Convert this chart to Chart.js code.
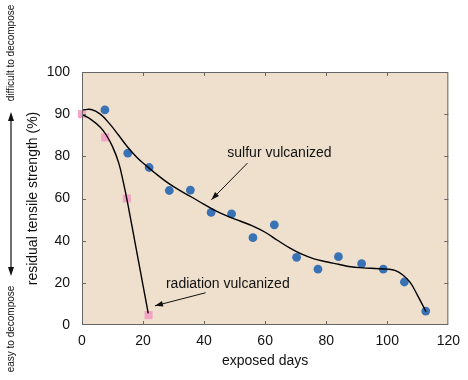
<!DOCTYPE html>
<html><head><meta charset="utf-8">
<script src="https://cdn.jsdelivr.net/npm/chart.js@4/dist/chart.umd.min.js"></script>
<style>html,body{margin:0;padding:0;background:#fff}#wrap{width:468px;height:380px}</style>
</head><body><div id="wrap"><canvas id="c" width="468" height="380"></canvas></div>
<script>
// ---- data ----
const sulfurDays   = [7.5, 15, 22, 28.6, 35.5, 42.3, 49, 56, 63, 70.3, 77.3, 84, 91.6, 98.7, 105.6, 112.6];
const sulfurValues = [102, 81.5, 74.7, 63.8, 64, 53.4, 52.7, 41.4, 47.5, 32.1, 26.5, 32.4, 29.1, 26.5, 20.4, 6.6];
const radiationDays   = [0, 7.6, 14.7, 21.8];
const radiationValues = [100, 89, 60, 4.7];
// fitted curves
const sulfurCurveDays   = [0, 3, 6, 9, 12, 15, 18, 21, 24, 27, 30, 33, 36, 40, 44, 48, 52, 56, 60, 64, 68, 72, 76, 80, 84, 88, 92, 96, 100, 102.5, 105, 107.5, 110, 112.7];
const sulfurCurveValues = [101.9, 102.2, 100, 95.5, 90, 84.3, 79.5, 75.6, 72, 68.6, 65.6, 63, 60.6, 57.2, 54, 51.4, 49.2, 46.9, 44, 40.2, 36.6, 33.6, 31.4, 30, 28.8, 27.6, 27.1, 26.8, 26.5, 25.9, 23.8, 20.2, 13.8, 6.3];
const radiationCurveDays   = [0, 3, 6, 8, 10, 12, 13.5, 15, 17, 19, 20, 21.7];
const radiationCurveValues = [99.9, 97.4, 93.8, 90, 84.6, 77, 68, 57.5, 42, 26.5, 18.7, 5.5];
// tick labels
const xTickLabels = ["0","20","40","60","80","100","120"];
const yTickLabels = ["0","20","40","60","80","90","100"];
const xTitle = "exposed days";
const yTitle = "residual tensile strength (%)";
const sulfurLabel = "sulfur vulcanized";
const radiationLabel = "radiation vulcanized";
const topNote = "difficult to decompose";
const bottomNote = "easy to decompose";

const pts = (xs, ys) => xs.map((x, i) => ({x, y: ys[i]}));
const FONT = "'Liberation Sans', Arial, Helvetica, sans-serif";

function arrowHead(ctx, x1, y1, x2, y2, len, half) {
  const a = Math.atan2(y2 - y1, x2 - x1);
  ctx.beginPath();
  ctx.moveTo(x2, y2);
  ctx.lineTo(x2 - len*Math.cos(a) + half*Math.sin(a), y2 - len*Math.sin(a) - half*Math.cos(a));
  ctx.lineTo(x2 - len*Math.cos(a) - half*Math.sin(a), y2 - len*Math.sin(a) + half*Math.cos(a));
  ctx.closePath();
  ctx.fill();
}

const decor = {
  id: 'decor',
  beforeDatasetsDraw(chart) {
    const {ctx, chartArea: a} = chart;
    ctx.save();
    ctx.fillStyle = '#eee0cc';
    ctx.fillRect(a.left, a.top, a.right - a.left, a.bottom - a.top);
    ctx.restore();
  },
  afterDraw(chart) {
    const {ctx, chartArea: a, scales: {x, y}} = chart;
    ctx.save();
    ctx.strokeStyle = '#666';
    ctx.lineWidth = 1;
    ctx.strokeRect(a.left + 0.5, a.top + 0.5, a.right - a.left - 1, a.bottom - a.top - 1);
    ctx.beginPath();
    for (let v = 20; v < 120; v += 20) {
      const px = Math.round(x.getPixelForValue(v)) + 0.5;
      ctx.moveTo(px, a.bottom); ctx.lineTo(px, a.bottom - 4);
      ctx.moveTo(px, a.top); ctx.lineTo(px, a.top + 4);
      const py = Math.round(y.getPixelForValue(v)) + 0.5;
      ctx.moveTo(a.left, py); ctx.lineTo(a.left + 4, py);
      ctx.moveTo(a.right, py); ctx.lineTo(a.right - 4, py);
    }
    ctx.stroke();

    ctx.fillStyle = '#111';
    ctx.strokeStyle = '#111';
    ctx.font = '14px ' + FONT;
    ctx.textBaseline = 'alphabetic';
    ctx.textAlign = 'left';
    ctx.fillText(sulfurLabel, x.getPixelForValue(47.6), y.getPixelForValue(79.5));
    ctx.fillText(radiationLabel, x.getPixelForValue(27.5), y.getPixelForValue(17.5));

    ctx.lineWidth = 1;
    let x1 = x.getPixelForValue(54.2), y1 = y.getPixelForValue(76.8);
    let x2 = x.getPixelForValue(42.4), y2 = y.getPixelForValue(59.4);
    ctx.beginPath(); ctx.moveTo(x1, y1); ctx.lineTo(x2, y2); ctx.stroke();
    arrowHead(ctx, x1, y1, x2, y2, 8, 2.8);
    x1 = x.getPixelForValue(40.5); y1 = y.getPixelForValue(15.3);
    x2 = x.getPixelForValue(23.9); y2 = y.getPixelForValue(9.1);
    ctx.beginPath(); ctx.moveTo(x1, y1); ctx.lineTo(x2, y2); ctx.stroke();
    arrowHead(ctx, x1, y1, x2, y2, 8, 2.8);

    const lx = 11;
    ctx.font = '10px ' + FONT;
    ctx.textAlign = 'center';
    ctx.textBaseline = 'middle';
    ctx.save(); ctx.translate(lx, 53); ctx.rotate(-Math.PI/2); ctx.fillText(topNote, 0, 0); ctx.restore();
    ctx.save(); ctx.translate(lx, 329); ctx.rotate(-Math.PI/2); ctx.fillText(bottomNote, 0, 0); ctx.restore();
    ctx.lineWidth = 1.2;
    ctx.beginPath(); ctx.moveTo(lx, 118); ctx.lineTo(lx, 270); ctx.stroke();
    arrowHead(ctx, lx, 200, lx, 112, 9, 3);
    arrowHead(ctx, lx, 200, lx, 276, 9, 3);
    ctx.restore();
  }
};

new Chart(document.getElementById('c'), {
  data: {
    datasets: [
      { type: 'line', data: pts(sulfurCurveDays, sulfurCurveValues), borderColor: '#000', borderWidth: 1.4,
        pointRadius: 0, tension: 0.4, fill: false, order: 0 },
      { type: 'line', data: pts(radiationCurveDays, radiationCurveValues), borderColor: '#000', borderWidth: 1.4,
        pointRadius: 0, tension: 0.4, fill: false, order: 0 },
      { type: 'scatter', data: pts(sulfurDays, sulfurValues), backgroundColor: '#3a72b6', borderWidth: 0,
        radius: 4.4, pointRadius: 4.4, pointStyle: 'circle', clip: false, order: 1 },
      { type: 'scatter', data: pts(radiationDays, radiationValues), backgroundColor: '#f2a3c6', borderColor: '#f2a3c6', borderWidth: 0,
        radius: 5.7, pointRadius: 5.7, pointStyle: 'rect', clip: false, order: 1 }
    ]
  },
  options: {
    responsive: false, animation: false, devicePixelRatio: 1,
    layout: { padding: { top: 72, right: 19, left: 0, bottom: 0 } },
    plugins: { legend: { display: false }, tooltip: { enabled: false } },
    scales: {
      x: { type: 'linear', min: 0, max: 120,
        afterFit: s => { s.height = 55; },
        grid: { display: false, drawTicks: false }, border: { display: false },
        ticks: { stepSize: 20, padding: 8, color: '#111', font: { size: 14, family: FONT },
          callback: v => xTickLabels[Math.round(v / 20)] },
        title: { display: true, text: xTitle, color: '#111', font: { size: 14, family: FONT }, padding: { top: 0, bottom: 10 } } },
      y: { type: 'linear', min: 0, max: 120,
        afterFit: s => { s.width = 82; },
        grid: { display: false, drawTicks: false }, border: { display: false },
        ticks: { stepSize: 20, padding: 12, color: '#111', font: { size: 14, family: FONT },
          callback: v => yTickLabels[Math.round(v / 20)] },
        title: { display: true, text: yTitle, color: '#111', font: { size: 14, family: FONT }, padding: { top: 24.5, bottom: 0 } } }
    }
  },
  plugins: [decor]
});
</script>
</body></html>
